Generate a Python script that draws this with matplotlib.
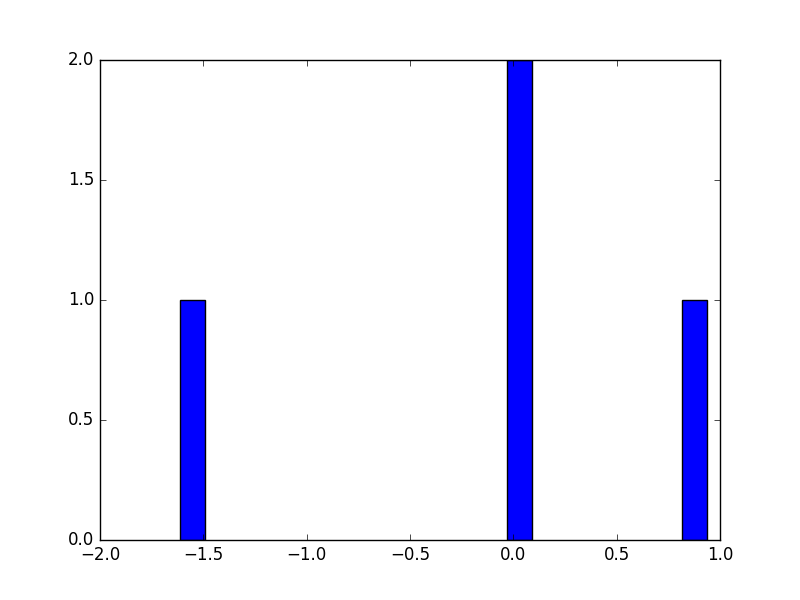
import matplotlib
matplotlib.use("Agg")
import matplotlib.pyplot as plt

# bar left edges, widths and counts
bin_lefts = [-1.613, -0.03, 0.818]
bin_width = 0.12
counts = [1, 2, 1]

plt.style.use('classic')
fig = plt.figure(figsize=(8, 6), dpi=100)
ax = fig.add_subplot(111)
ax.bar(bin_lefts, counts, width=bin_width, align='edge', color='b', edgecolor='k')
ax.set_xlim(-2.0, 1.0)
ax.set_ylim(0.0, 2.0)
ax.set_xticks([-2.0, -1.5, -1.0, -0.5, 0.0, 0.5, 1.0])
ax.set_yticks([0.0, 0.5, 1.0, 1.5, 2.0])

fig.savefig("out.png", dpi=100, facecolor='white')
